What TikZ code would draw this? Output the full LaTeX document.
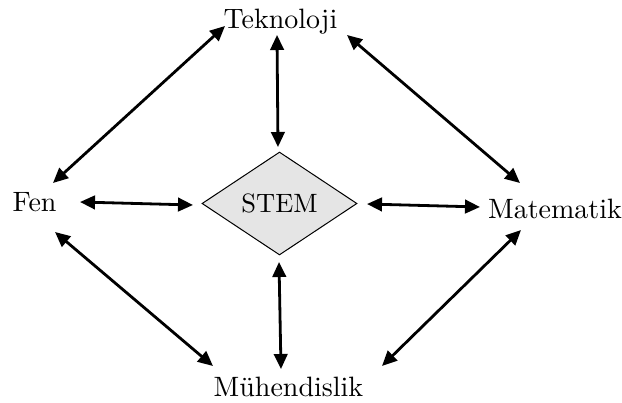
\documentclass[tikz,border=0pt]{standalone}
\usepackage{fontspec}
\setmainfont{lmroman10}[Extension=.otf, UprightFont=*-regular]
\usetikzlibrary{arrows.meta,shapes.geometric}
\begin{document}
\begin{tikzpicture}[x=1pt,y=-1pt,
  lbl/.style={font=\fontsize{28}{34}\selectfont, inner sep=0pt, anchor=base},
  link/.style={line width=2.8pt,
    {Triangle[length=15pt,width=13.5pt]}-{Triangle[length=15pt,width=13.5pt]}},
  hub/.style={diamond, draw, line width=1pt, fill=black!10,
    minimum width=155pt, minimum height=103pt, inner sep=0pt, aspect=1.5,
    font=\fontsize{26.5}{30}\selectfont}]
\useasboundingbox (0,0) rectangle (622,403);

% the four disciplines and the centre
\node[lbl] (tek) at (280.5,29) {Teknoloji};
\node[lbl] (fen) at (34.5,212) {Fen};
\node[lbl] (mat) at (555,219) {Matematik};
\node[lbl] (muh) at (288.5,397) {Mühendislik};
\node[hub] (stem) at (279.5,203.5) {STEM};

% arrow end points around the labels
\coordinate (tek-l) at (225,26);
\coordinate (tek-r) at (347,35);
\coordinate (tek-b) at (277,35);
\coordinate (fen-t) at (53,183);
\coordinate (fen-r) at (80,202);
\coordinate (fen-b) at (55,232);
\coordinate (mat-t) at (520,183);
\coordinate (mat-l) at (480,207);
\coordinate (mat-b) at (521,230);
\coordinate (muh-l) at (213,366);
\coordinate (muh-r) at (382,366);
\coordinate (muh-t) at (281,369);
\coordinate (stem-t) at (278,147);
\coordinate (stem-l) at (193,205);
\coordinate (stem-r) at (367,204);
\coordinate (stem-b) at (279,262);

% links
\draw[link] (tek-l) -- (fen-t);
\draw[link] (tek-r) -- (mat-t);
\draw[link] (fen-b) -- (muh-l);
\draw[link] (mat-b) -- (muh-r);
\draw[link] (tek-b) -- (stem-t);
\draw[link] (stem-b) -- (muh-t);
\draw[link] (fen-r) -- (stem-l);
\draw[link] (stem-r) -- (mat-l);
\end{tikzpicture}
\end{document}
